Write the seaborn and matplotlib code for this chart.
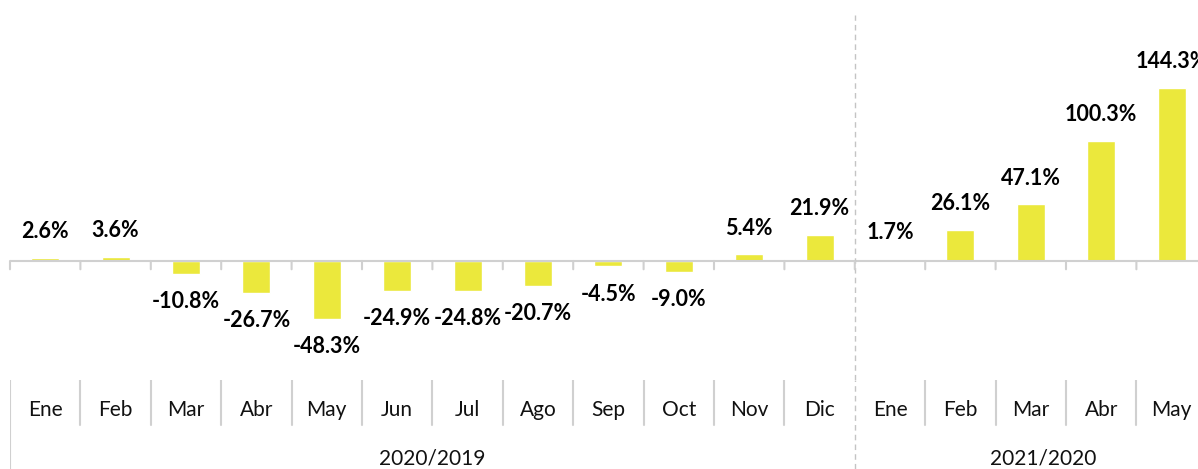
import matplotlib
matplotlib.use("Agg")
import matplotlib.pyplot as plt
import seaborn as sns
import pandas as pd

months = ["Ene", "Feb", "Mar", "Abr", "May", "Jun", "Jul", "Ago", "Sep", "Oct", "Nov", "Dic",
          "Ene", "Feb", "Mar", "Abr", "May"]
periods = ["2020/2019"] * 12 + ["2021/2020"] * 5
values = [2.6, 3.6, -10.8, -26.7, -48.3, -24.9, -24.8, -20.7, -4.5, -9.0, 5.4, 21.9,
          1.7, 26.1, 47.1, 100.3, 144.3]

df = pd.DataFrame({"mes": months, "periodo": periods, "valor": values})
df["clave"] = df["mes"] + " " + df["periodo"]

sns.set_style("white")
plt.rcParams["font.family"] = ["Lato", "DejaVu Sans"]

W, H = 1198, 469
fig = plt.figure(figsize=(W / 100, H / 100), dpi=100)
n = len(df)
cat_w = 70.4
left = 10 / W
width = n * cat_w / W
ax = fig.add_axes([left, 1 - 380 / H, width, 380 / H])
axb = fig.add_axes([left, 0, width, 1 - 380 / H], sharex=ax)

bar_color = "#EBE83C"
grid_c = "#d0d0d0"
dash_c = "#c4c4c4"
sns.barplot(data=df, x="clave", y="valor", color=bar_color, width=0.4,
            saturation=1, ax=ax, order=list(df["clave"]))

ax.set_ylim(-99.2, 217.5)
ax.set_xlim(-0.5, n - 0.5)
for s in ax.spines.values():
    s.set_visible(False)
ax.set_xticks([])
ax.set_yticks([])
ax.set_xlabel("")
ax.set_ylabel("")

# zero line with small ticks at category boundaries
ax.axhline(0, color=grid_c, lw=1.5, zorder=1)
for b in range(n + 1):
    ax.annotate("", xy=(b - 0.5, 0), xytext=(0, -6), textcoords="offset points",
                arrowprops=dict(arrowstyle="-", color=grid_c, lw=1.5,
                                shrinkA=0, shrinkB=0))

# value labels
for i, v in enumerate(values):
    off = 19 if v >= 0 else -20
    ax.annotate(f"{v:.1f}%", xy=(i, v), xytext=(0, off), textcoords="offset points",
                ha="center", va="center", fontsize=15.5, fontweight="bold", color="black",
                annotation_clip=False)

# period divider (dashed)
split = periods.count("2020/2019") - 0.5
ax.axvline(split, ymin=0, ymax=(380 - 15) / 380, color=dash_c, lw=1, ls=(0, (4, 3)))

# bottom category axis
axb.set_ylim(0, 1)
axb.axis("off")
for b in range(n + 1):
    x = b - 0.5
    if b == 0:
        axb.plot([x, x], [0, 1], color=grid_c, lw=1.5)
    elif x != split:
        axb.plot([x, x], [0.5, 1], color=grid_c, lw=1.5)
axb.axvline(split, color=dash_c, lw=1, ls=(0, (4, 3)))
for i, m in enumerate(months):
    axb.text(i, 0.665, m, ha="center", va="center", fontsize=15, color="#111111")
axb.text((0 + 11) / 2, 0.12, "2020/2019", ha="center", va="center", fontsize=15, color="#111111")
axb.text(14.17, 0.12, "2021/2020", ha="center", va="center", fontsize=15, color="#111111")

fig.savefig("out.png", dpi=100)
